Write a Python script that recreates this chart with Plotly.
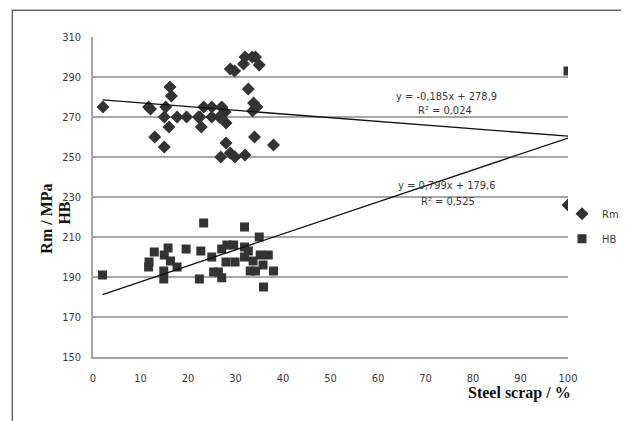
import numpy as np
import plotly.graph_objects as go

# ---- data ----
rm_x = [2.1, 11.7, 12.1, 16.2, 16.5, 15.3, 15.0, 17.7, 19.7, 22.2, 16.0, 13.0, 15.0,
        22.5, 22.8, 23.3, 25.0, 25.0, 26.6, 27.1, 27.8, 28.0, 28.9, 29.8, 31.7, 32.0,
        32.7, 28.0, 26.9, 28.9, 29.9, 32.0, 33.5, 34.2, 35.0, 33.8, 34.5, 33.6, 34.0,
        38.0, 100]
rm_y = [275, 275, 274, 285, 280.5, 275, 270, 270, 270, 270, 265, 260, 255,
        270, 265, 275, 275, 270, 270, 275, 272.5, 267, 294, 293, 296.5, 300,
        284, 257, 250, 252, 250, 251, 300, 300, 296, 277, 275, 273, 260,
        256, 226]

hb_x = [2.0, 11.7, 11.8, 12.9, 14.9, 14.9, 15.0, 15.8, 16.3, 17.7, 19.6, 22.7, 23.3,
        22.4, 25.0, 25.4, 26.4, 27.1, 27.1, 28.2, 29.6, 28.0, 29.9, 31.9, 31.9, 31.9,
        32.7, 33.7, 33.1, 34.2, 35.2, 35.8, 36.9, 35.0, 38.0, 35.9, 100]
hb_y = [191, 195, 197.5, 202.5, 189, 193, 201, 204.5, 198, 195, 204, 203, 217,
        189, 200, 192.5, 192.5, 189.6, 204, 206, 206, 197.5, 197.5, 215, 205, 200,
        203, 198, 193, 193, 201, 196, 201, 210, 193, 185, 293]

rm_fit = (-0.185, 278.9, 0.024)
hb_fit = (0.799, 179.6, 0.525)
fit_x = np.array([2.0, 100.0])

x_ticks = list(range(0, 101, 10))
y_ticks = list(range(150, 311, 20))

narrow = "Liberation Sans Narrow, DejaVu Sans Condensed, Arial Narrow, sans-serif"
serif = "Liberation Serif, Times New Roman, serif"
txt = "#3a3a3a"
mark = "#333333"

# page is shown with an 8px body margin, so the figure is drawn 8px smaller
W, H = 629 - 8, 421 - 8
PL, PT, PW, PH = 92.7, 36.7, 475.3, 320.0   # plot area in page pixels

def px(xp):
    return (xp - PL) / PW

def py(yp):
    return (PT + PH - yp) / PH

fig = go.Figure()
fig.add_trace(go.Scatter(x=rm_x, y=rm_y, mode="markers", name="Rm", legendgroup="rm",
                         marker=dict(symbol="diamond", size=10, color=mark)))
fig.add_trace(go.Scatter(x=hb_x, y=hb_y, mode="markers", name="HB", legendgroup="hb",
                         marker=dict(symbol="square", size=9, color=mark)))
fig.add_trace(go.Scatter(x=fit_x, y=rm_fit[0] * fit_x + rm_fit[1], mode="lines",
                         line=dict(color="#111111", width=1.3), showlegend=False,
                         hoverinfo="skip"))
fig.add_trace(go.Scatter(x=fit_x, y=hb_fit[0] * fit_x + hb_fit[1], mode="lines",
                         line=dict(color="#111111", width=1.3), showlegend=False,
                         hoverinfo="skip"))

def fmt(v, d):
    return f"{v:.{d}f}".replace(".", ",")

ann_font = dict(family=narrow, size=11, color=txt)
annotations = [
    dict(x=74.5, y=280.2, text=f"y = {fmt(rm_fit[0],3)}x + {fmt(rm_fit[1],1)}"),
    dict(x=74.0, y=273.2, text=f"R² = {fmt(rm_fit[2],3)}"),
    dict(x=74.5, y=235.8, text=f"y = {fmt(hb_fit[0],3)}x + {fmt(hb_fit[1],1)}"),
    dict(x=74.8, y=228.0, text=f"R² = {fmt(hb_fit[2],3)}"),
]
for a in annotations:
    a.update(xref="x", yref="y", showarrow=False, font=ann_font,
             xanchor="center", yanchor="middle")

title_font = dict(family=serif, size=16, color="#111111")
annotations += [
    dict(text="<b>Rm / MPa</b>", xref="paper", yref="paper", x=px(46), y=py(218),
         textangle=-90, showarrow=False, xanchor="center", yanchor="middle",
         font=title_font),
    dict(text="<b>HB</b>", xref="paper", yref="paper", x=px(64), y=py(213),
         textangle=-90, showarrow=False, xanchor="center", yanchor="middle",
         font=title_font),
    dict(text="<b>Steel scrap / %</b>", xref="paper", yref="paper", x=px(573),
         y=py(393), xanchor="right", yanchor="middle", showarrow=False,
         font=title_font),
]

shapes = [dict(type="rect", xref="paper", yref="paper",
               x0=px(12), x1=1.5, y0=-0.5, y1=py(10),
               line=dict(color="#666666", width=1.5), fillcolor="rgba(0,0,0,0)",
               layer="below")]

fig.update_layout(
    width=W, height=H,
    margin=dict(l=PL - 8, r=W - (PL - 8) - PW, t=PT - 8, b=H - (PT - 8) - PH,
                autoexpand=False),
    paper_bgcolor="white", plot_bgcolor="white",
    showlegend=True,
    legend=dict(x=px(562), y=py(199), xanchor="left", yanchor="top",
                font=dict(family=narrow, size=11, color=txt), itemwidth=30,
                traceorder="grouped", tracegroupgap=6, bgcolor="rgba(0,0,0,0)"),
    annotations=annotations,
    shapes=shapes,
    xaxis=dict(range=[0, 100], tickvals=x_ticks, showgrid=False, zeroline=False,
               showline=True, linecolor="#a6a6a6", linewidth=1.5,
               tickfont=dict(family=narrow, size=11, color=txt), ticks="",
               ticklabelstandoff=10),
    yaxis=dict(range=[150, 310], tickvals=y_ticks, showgrid=True, gridcolor="#a6a6a6",
               gridwidth=1.5, zeroline=False, showline=True, linecolor="#a6a6a6",
               linewidth=1.5, tickfont=dict(family=narrow, size=11, color=txt), ticks="",
               ticklabelstandoff=8),
)

fig.write_html("out.html")
